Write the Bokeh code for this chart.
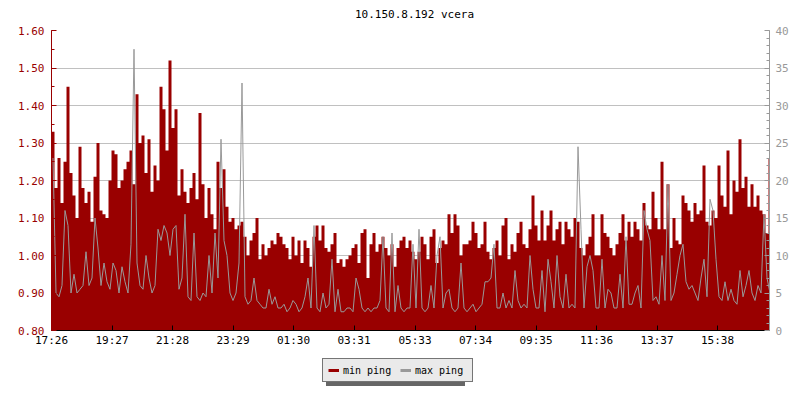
from bokeh.plotting import figure
from bokeh.layouts import column
from bokeh.models import (Range1d, LinearAxis, FixedTicker, Legend, LegendItem,
                          ColumnDataSource, NumeralTickFormatter, Label)
from bokeh.embed import file_html
from bokeh.resources import INLINE

TITLE = "10.150.8.192 vcera"
START = "17:26"
STEP_MIN = 6
SPAN_MIN = 1436

x_tick_labels = ["17:26", "19:27", "21:28", "23:29", "01:30", "03:31",
                 "05:33", "07:34", "09:35", "11:36", "13:37", "15:38"]
left_ticks = [0.80, 0.90, 1.00, 1.10, 1.20, 1.30, 1.40, 1.50, 1.60]
right_ticks = [0, 5, 10, 15, 20, 25, 30, 35, 40]
series_names = ["min ping", "max ping"]

# min ping (left axis), one value per 6-minute sample
min_ping = [
    1.33, 1.18, 1.26, 1.14, 1.25, 1.45, 1.22, 1.16, 1.10, 1.29,
    1.18, 1.14, 1.17, 1.09, 1.21, 1.30, 1.12, 1.11, 1.10, 1.20,
    1.28, 1.27, 1.18, 1.20, 1.23, 1.25, 1.28, 1.19, 1.43, 1.30,
    1.32, 1.22, 1.31, 1.17, 1.24, 1.20, 1.45, 1.39, 1.28, 1.52,
    1.34, 1.39, 1.16, 1.23, 1.17, 1.14, 1.18, 1.22, 1.15, 1.38,
    1.19, 1.10, 1.18, 1.11, 1.07, 1.25, 1.18, 1.23, 1.13, 1.09,
    1.10, 1.07, 1.08, 1.09, 1.05, 1.00, 1.04, 1.06, 1.10, 0.99,
    1.03, 1.00, 1.02, 1.04, 1.03, 1.06, 1.05, 1.03, 1.02, 0.99,
    1.05, 1.00, 1.04, 0.98, 1.04, 1.02, 0.97, 1.05, 1.08, 1.04,
    1.08, 1.02, 1.01, 1.03, 1.06, 0.98, 0.99, 0.97, 0.99, 1.00,
    1.02, 1.03, 0.98, 1.06, 1.07, 0.94, 1.03, 1.06, 1.01, 1.03,
    1.05, 1.02, 1.00, 1.03, 0.97, 1.02, 1.04, 1.05, 1.02, 1.04,
    1.01, 0.99, 1.01, 1.05, 1.03, 0.99, 1.05, 1.07, 0.98, 1.02,
    1.04, 1.03, 1.11, 1.06, 1.11, 1.08, 1.00, 1.03, 1.03, 1.04,
    1.09, 1.06, 1.02, 1.03, 1.09, 1.01, 0.99, 1.02, 1.04, 1.00,
    1.08, 1.10, 0.99, 1.03, 1.01, 1.06, 1.09, 1.03, 1.02, 1.07,
    1.16, 1.08, 1.04, 1.12, 1.04, 1.08, 1.12, 1.04, 1.07, 1.09,
    1.03, 1.09, 1.07, 1.05, 1.10, 1.09, 1.02, 1.00, 1.03, 1.05,
    1.11, 1.00, 1.00, 1.11, 1.06, 1.05, 1.02, 1.00, 1.03, 1.06,
    1.11, 1.04, 1.09, 1.05, 1.09, 1.07, 1.04, 1.14, 1.08, 1.07,
    1.17, 1.10, 1.07, 1.25, 1.07, 1.19, 1.02, 1.10, 1.04, 1.03,
    1.16, 1.14, 1.12, 1.09, 1.14, 1.11, 1.12, 1.24, 1.09, 1.08,
    1.12, 1.10, 1.24, 1.16, 1.13, 1.28, 1.11, 1.20, 1.17, 1.31,
    1.18, 1.21, 1.13, 1.19, 1.13, 1.16, 1.12, 1.11, 1.06, 1.26,
]

# max ping (right axis)
max_ping = [
    23, 5, 4.5, 6, 16, 14, 5, 7.5, 5, 5.5,
    6, 10.5, 6, 7, 15, 11, 6, 9, 6.5, 5.5,
    9, 8, 5, 8.5, 6.5, 5, 11.5, 37.5, 9, 6,
    5.5, 10, 7, 5, 6, 13.5, 12, 14, 13, 10,
    13.5, 14, 5.5, 7, 15.5, 4.5, 4, 13, 4.5, 4,
    5, 4.5, 10, 5, 13, 7, 25.5, 12, 10, 5,
    4, 5, 9, 33, 4.5, 3.5, 4, 7, 4, 3.5,
    3, 3, 5.5, 3.5, 4.5, 3, 3, 3.5, 2.5, 3,
    4, 3.5, 2.5, 3, 4.5, 7, 3, 14, 3, 2.5,
    5, 3, 3.5, 9.5, 2.5, 5.5, 2.5, 2.5, 3, 3,
    2.5, 7, 5.5, 3, 2.5, 3, 2.5, 3, 3, 4,
    12.5, 3, 2.5, 13, 2.5, 6, 3, 2.5, 3, 3,
    11.5, 3, 13.5, 3, 2.5, 3, 6, 3, 10, 12.5,
    3, 5, 5.5, 3, 2.5, 3, 9, 3, 2.5, 3,
    3.5, 2.5, 3, 3.5, 6.5, 6.5, 7, 11.5, 3, 3,
    5, 3, 4, 3, 8, 4, 3, 3.5, 3, 10,
    5.5, 3, 3, 8, 2.5, 9.5, 6.5, 3, 10, 4.5,
    3, 7.5, 3, 3.5, 3, 24.5, 13.5, 3, 8.5, 10,
    8, 3, 3, 9.5, 3, 5.5, 5, 3, 3, 7.5,
    3, 12.5, 3.5, 3.5, 5, 6, 3, 16, 13.5, 12,
    4, 4.5, 3.5, 10, 4, 19.5, 4, 5, 7.5, 10,
    11.5, 6.5, 5.5, 6, 5, 4, 7, 9.5, 4.5, 17.5,
    16, 9.5, 4.5, 4, 6.5, 4, 5.5, 4, 3.5, 8,
    4.5, 6, 8, 5, 4, 6, 5, 15.5, 7, 5,
]


def to_min(s):
    h, m = s.split(":")
    return int(h) * 60 + int(m)


t0 = to_min(START)
tick_pos = [(to_min(s) - t0) % 1440 for s in x_tick_labels]
n = len(min_ping)
xs = [STEP_MIN * (i + 0.5) for i in range(n)]
src = ColumnDataSource(dict(x=xs, lo=min_ping, hi=max_ping))
edges = [STEP_MIN * i for i in range(n + 1)]
area_src = ColumnDataSource(dict(x=edges, y=min_ping + [min_ping[-1]]))

FONT = "DejaVu Sans Mono"
FS = "11px"
RED = "#990000"
GRAY = "#999999"


def strip(height):
    f = figure(width=800, height=height, output_backend="svg",
               toolbar_location=None, x_range=Range1d(0, 1),
               y_range=Range1d(0, 1), x_axis_type=None, y_axis_type=None,
               min_border=0)
    f.outline_line_color = None
    f.grid.visible = False
    f.background_fill_color = "white"
    f.border_fill_color = "white"
    return f


# ---- title strip ----
tf = strip(22)
tf.add_layout(Label(x=363, y=8, x_units="screen", y_units="screen",
                    text=TITLE, text_align="center", text_baseline="middle",
                    text_font=FONT, text_font_size=FS, text_color="black"))

# ---- main chart ----
p = figure(width=800, height=333, output_backend="svg", toolbar_location=None,
           x_range=Range1d(0, SPAN_MIN), y_range=Range1d(0.8, 1.6),
           min_border_left=51, min_border_right=31, min_border_top=8,
           min_border_bottom=25)
p.extra_y_ranges = {"right": Range1d(0, 40)}
p.outline_line_color = None
p.background_fill_color = "white"
p.border_fill_color = "white"

p.xgrid.visible = False
p.ygrid.grid_line_color = "#c0c0c0"
p.ygrid.ticker = FixedTicker(ticks=left_ticks)

xa = p.xaxis[0]
xa.ticker = FixedTicker(ticks=tick_pos)
xa.major_label_overrides = {pos: lab for pos, lab in zip(tick_pos, x_tick_labels)}
xa.major_tick_in = 5
xa.major_tick_out = 0
xa.minor_tick_line_color = None
xa.axis_line_color = "black"
xa.major_tick_line_color = "black"
xa.major_label_text_font = FONT
xa.major_label_text_font_size = FS
xa.major_label_text_color = "black"
xa.major_label_standoff = 3

ya = p.yaxis[0]
minor_left = [round(0.80 + 0.05 * k, 2) for k in range(17)]
ya.ticker = FixedTicker(ticks=left_ticks, minor_ticks=minor_left)
ya.formatter = NumeralTickFormatter(format="0.00")
ya.major_tick_in = 5
ya.major_tick_out = 0
ya.minor_tick_in = 3
ya.minor_tick_out = 0
ya.axis_line_color = RED
ya.major_tick_line_color = RED
ya.minor_tick_line_color = RED
ya.major_label_text_color = RED
ya.major_label_text_font = FONT
ya.major_label_text_font_size = FS
ya.major_label_standoff = 7

ra = LinearAxis(y_range_name="right")
ra.ticker = FixedTicker(ticks=right_ticks, minor_ticks=list(range(41)))
ra.major_tick_in = 5
ra.major_tick_out = 0
ra.minor_tick_in = 3
ra.minor_tick_out = 0
ra.axis_line_color = GRAY
ra.major_tick_line_color = GRAY
ra.minor_tick_line_color = GRAY
ra.major_label_text_color = GRAY
ra.major_label_text_font = FONT
ra.major_label_text_font_size = FS
ra.major_label_standoff = 6
p.add_layout(ra, "right")

p.varea_step(x="x", y1=0.8, y2="y", step_mode="after", source=area_src,
             fill_color=RED)
p.line(x="x", y="hi", source=src, y_range_name="right",
       line_color=GRAY, line_width=1)

# ---- legend strip below the chart ----
lg = strip(45)
nan = float("nan")
r_min = lg.line(x=[nan], y=[nan], line_color=RED, line_width=3)
r_max = lg.line(x=[nan], y=[nan], line_color=GRAY, line_width=3)
s_min = lg.line(x=[nan], y=[nan], line_alpha=0)
s_max = lg.line(x=[nan], y=[nan], line_alpha=0)

common = dict(orientation="horizontal", label_text_font=FONT,
              label_text_font_size="10px", glyph_width=11, glyph_height=12,
              padding=5, spacing=5, margin=0, label_standoff=4,
              label_height=12, label_width=52)

shadow = Legend(items=[LegendItem(label=series_names[0], renderers=[s_min]),
                       LegendItem(label=series_names[1], renderers=[s_max])],
                location=(275, 14), background_fill_color="#666666",
                background_fill_alpha=1.0, border_line_color=None,
                label_text_alpha=0, **common)
leg = Legend(items=[LegendItem(label=series_names[0], renderers=[r_min]),
                    LegendItem(label=series_names[1], renderers=[r_max])],
             location=(271, 18), background_fill_color="#eaeaea",
             background_fill_alpha=1.0, border_line_color="black",
             border_line_width=1, label_text_color="black", **common)
lg.add_layout(shadow, "center")
lg.add_layout(leg, "center")

layout = column(tf, p, lg, spacing=0)
open("out.html", "w").write(file_html(layout, INLINE))
